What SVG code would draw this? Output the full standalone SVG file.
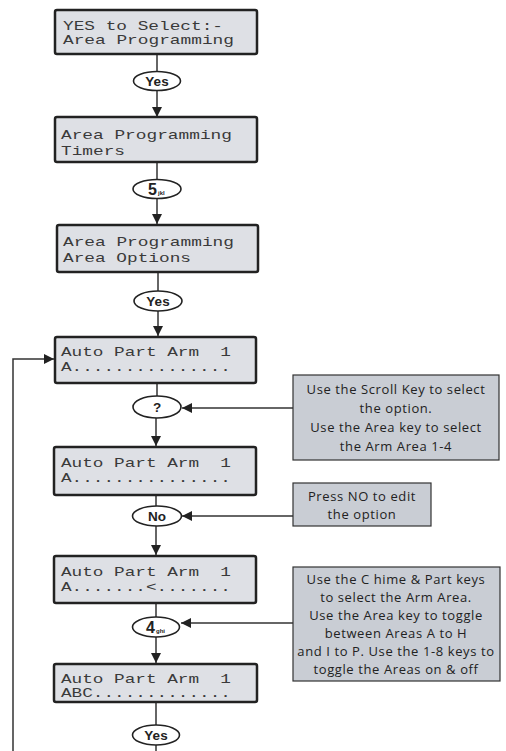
<svg xmlns="http://www.w3.org/2000/svg" width="506" height="751" viewBox="0 0 506 751">
<defs>
<marker id="ah" viewBox="0 0 10 10" refX="10" refY="5" markerWidth="10" markerHeight="10" markerUnits="userSpaceOnUse" orient="auto">
<path d="M0,0 L10,5 L0,10 z" fill="#222"/>
</marker>
<style>
.lcd{fill:#dee0e5;stroke:#222;stroke-width:2.5}
.lt{font-family:"Liberation Mono",monospace;font-size:13.5px;fill:#3a3a3a;white-space:pre}
.ov{fill:#fff;stroke:#222;stroke-width:1.6}
.ot{font-family:"Liberation Sans",Arial,sans-serif;font-weight:bold;font-size:13.5px;fill:#222;text-anchor:middle}
.big{font-family:"Liberation Sans",Arial,sans-serif;font-weight:bold;font-size:16px;fill:#222}
.sub{font-family:"Liberation Sans",Arial,sans-serif;font-weight:bold;font-size:6px;fill:#222}
.note{fill:#c9cdd4;stroke:#333;stroke-width:1.2}
.nt{font-family:"Open Sans",sans-serif;font-size:13px;letter-spacing:0.6px;fill:#222;text-anchor:middle}
.ln{stroke:#333;stroke-width:1.5;fill:none}
</style>
</defs>

<g id="connectors">
<line class="ln" x1="157" y1="55" x2="157" y2="71"/>
<line class="ln" x1="157" y1="91" x2="157" y2="117" marker-end="url(#ah)"/>
<line class="ln" x1="157" y1="163" x2="157" y2="179"/>
<line class="ln" x1="157" y1="199" x2="157" y2="224" marker-end="url(#ah)"/>
<line class="ln" x1="158" y1="273" x2="158" y2="291"/>
<line class="ln" x1="158" y1="311" x2="158" y2="336" marker-end="url(#ah)"/>
<line class="ln" x1="157" y1="384" x2="157" y2="396"/>
<line class="ln" x1="156" y1="418" x2="156" y2="446" marker-end="url(#ah)"/>
<line class="ln" x1="156" y1="496" x2="156" y2="506"/>
<line class="ln" x1="156" y1="526" x2="156" y2="555" marker-end="url(#ah)"/>
<line class="ln" x1="156" y1="604" x2="156" y2="617"/>
<line class="ln" x1="156" y1="637" x2="156" y2="663" marker-end="url(#ah)"/>
<line class="ln" x1="156" y1="703" x2="156" y2="725"/>
<line class="ln" x1="156" y1="745" x2="156" y2="751"/>
<polyline class="ln" points="13,751 13,359 54,359" marker-end="url(#ah)"/>
<line class="ln" x1="293" y1="408" x2="182" y2="408" marker-end="url(#ah)"/>
<line class="ln" x1="293" y1="516" x2="182" y2="516" marker-end="url(#ah)"/>
<line class="ln" x1="293" y1="623" x2="181" y2="623" marker-end="url(#ah)"/>
</g>

<g id="lcd1"><rect class="lcd" x="55" y="10" width="202" height="44" rx="2"/>
<text class="lt" x="63" y="30" textLength="160" lengthAdjust="spacingAndGlyphs">YES to Select:-</text>
<text class="lt" x="63" y="44" textLength="171" lengthAdjust="spacingAndGlyphs">Area Programming</text></g>

<g id="key-yes1"><ellipse class="ov" cx="157" cy="81" rx="23.5" ry="9.5"/><text class="ot" x="157" y="86">Yes</text></g>

<g id="lcd2"><rect class="lcd" x="55" y="117" width="202" height="45" rx="2"/>
<text class="lt" x="61" y="139" textLength="171" lengthAdjust="spacingAndGlyphs">Area Programming</text>
<text class="lt" x="61" y="155" textLength="64" lengthAdjust="spacingAndGlyphs">Timers</text></g>

<g id="key-5"><ellipse class="ov" cx="157" cy="189" rx="24" ry="9.5"/><text class="big" x="148" y="195">5</text><text class="sub" x="158" y="195">jkl</text></g>

<g id="lcd3"><rect class="lcd" x="57" y="225" width="201" height="47" rx="2"/>
<text class="lt" x="63" y="246" textLength="171" lengthAdjust="spacingAndGlyphs">Area Programming</text>
<text class="lt" x="63" y="262" textLength="128" lengthAdjust="spacingAndGlyphs">Area Options</text></g>

<g id="key-yes2"><ellipse class="ov" cx="158" cy="301" rx="24" ry="10"/><text class="ot" x="158" y="306">Yes</text></g>

<g id="lcd4"><rect class="lcd" x="55" y="337" width="201" height="46" rx="2"/>
<text class="lt" x="61" y="356" textLength="170" lengthAdjust="spacingAndGlyphs">Auto Part Arm  1</text>
<text class="lt" x="61" y="371" textLength="170" lengthAdjust="spacingAndGlyphs">A...............</text></g>

<g id="key-query"><ellipse class="ov" cx="157" cy="407" rx="24" ry="11"/><text class="ot" x="157" y="412">?</text></g>

<g id="lcd5"><rect class="lcd" x="54" y="447" width="202" height="48" rx="2"/>
<text class="lt" x="61" y="467" textLength="170" lengthAdjust="spacingAndGlyphs">Auto Part Arm  1</text>
<text class="lt" x="61" y="482" textLength="170" lengthAdjust="spacingAndGlyphs">A...............</text></g>

<g id="key-no"><ellipse class="ov" cx="157" cy="516" rx="24.5" ry="10"/><text class="ot" x="157" y="521">No</text></g>

<g id="lcd6"><rect class="lcd" x="54" y="556" width="202" height="47" rx="2"/>
<text class="lt" x="61" y="576" textLength="170" lengthAdjust="spacingAndGlyphs">Auto Part Arm  1</text>
<text class="lt" x="61" y="591" textLength="170" lengthAdjust="spacingAndGlyphs">A.......&lt;.......</text></g>

<g id="key-4"><ellipse class="ov" cx="156" cy="627" rx="23.5" ry="10"/><text class="big" x="146" y="633">4</text><text class="sub" x="156" y="633">ghi</text></g>

<g id="lcd7"><rect class="lcd" x="54" y="664" width="203" height="38" rx="2"/>
<text class="lt" x="61" y="683" textLength="170" lengthAdjust="spacingAndGlyphs">Auto Part Arm  1</text>
<text class="lt" x="61" y="697" textLength="170" lengthAdjust="spacingAndGlyphs">ABC.............</text></g>

<g id="key-yes3"><ellipse class="ov" cx="156" cy="735" rx="23.5" ry="10"/><text class="ot" x="156" y="740">Yes</text></g>

<g id="note-scroll"><rect class="note" x="293" y="375" width="206" height="85"/>
<text class="nt" x="396" y="394">Use the Scroll Key to select</text>
<text class="nt" x="396" y="413">the option.</text>
<text class="nt" x="396" y="432">Use the Area key to select</text>
<text class="nt" x="396" y="451">the Arm Area 1-4</text></g>

<g id="note-no"><rect class="note" x="293" y="483" width="138" height="43"/>
<text class="nt" x="362" y="501">Press NO to edit</text>
<text class="nt" x="362" y="519">the option</text></g>

<g id="note-chime"><rect class="note" x="293" y="567" width="207" height="114"/>
<text class="nt" x="396" y="584">Use the C hime &amp; Part keys</text>
<text class="nt" x="396" y="602">to select the Arm Area.</text>
<text class="nt" x="396" y="620">Use the Area key to toggle</text>
<text class="nt" x="396" y="638">between Areas A to H</text>
<text class="nt" x="396" y="656">and I to P. Use the 1-8 keys to</text>
<text class="nt" x="396" y="674">toggle the Areas on &amp; off</text></g>
</svg>
